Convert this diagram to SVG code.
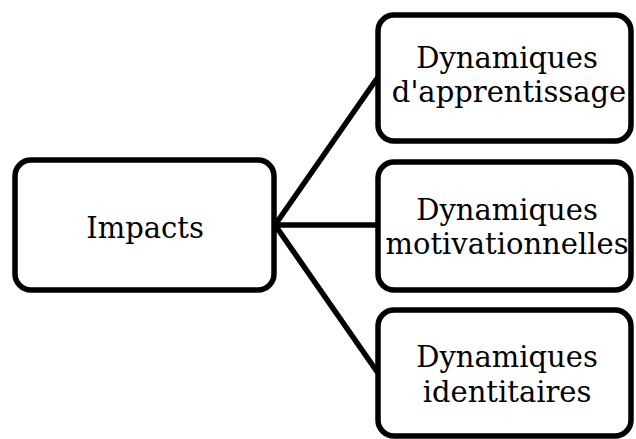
<svg xmlns="http://www.w3.org/2000/svg" width="636" height="439" viewBox="0 0 636 439">
<style>
.box{fill:#fff;stroke:#000;stroke-width:5.5}
.lbl{font-family:"DejaVu Serif","Liberation Serif",serif;font-size:29px;fill:#000;text-anchor:middle}
.conn{stroke:#000;stroke-width:5.5;fill:none;stroke-linecap:round}
</style>
<rect width="636" height="439" fill="#fff"/>
<g id="connectors">
<line class="conn" x1="275" y1="225" x2="378" y2="77"/>
<line class="conn" x1="275" y1="225" x2="378" y2="225"/>
<line class="conn" x1="275" y1="225" x2="378" y2="373"/>
</g>
<g id="impacts">
<rect class="box" x="15" y="160" width="259" height="130" rx="16"/>
<text class="lbl" x="145" y="238">Impacts</text>
</g>
<g id="apprentissage">
<rect class="box" x="378" y="15" width="253" height="126" rx="16"/>
<text class="lbl" x="507" y="68">Dynamiques</text>
<text class="lbl" x="509" y="102">d'apprentissage</text>
</g>
<g id="motivationnelles">
<rect class="box" x="378" y="162" width="253" height="128" rx="16"/>
<text class="lbl" x="507" y="220">Dynamiques</text>
<text class="lbl" x="507" y="254">motivationnelles</text>
</g>
<g id="identitaires">
<rect class="box" x="378" y="310" width="253" height="126" rx="16"/>
<text class="lbl" x="507" y="367">Dynamiques</text>
<text class="lbl" x="507" y="402">identitaires</text>
</g>
</svg>
